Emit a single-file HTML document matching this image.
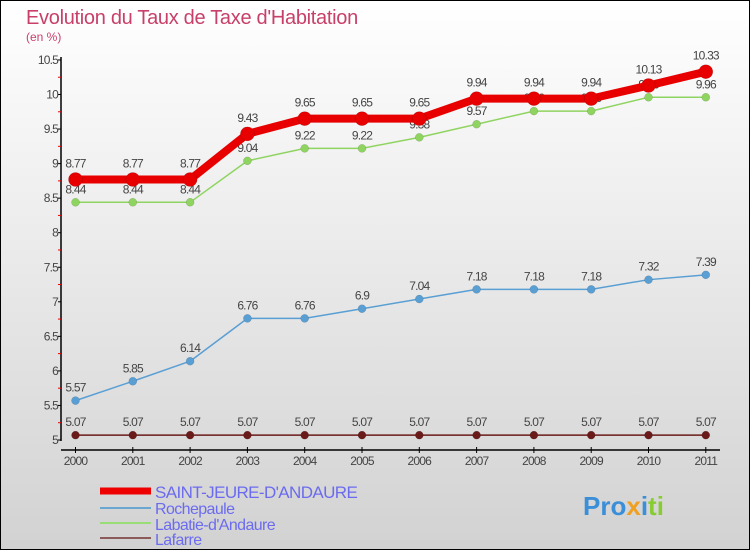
<!DOCTYPE html>
<html><head><meta charset="utf-8"><style>
body{margin:0}
#c{width:750px;height:550px;position:relative;overflow:hidden;box-sizing:border-box;border:1px solid #000;background:linear-gradient(#ffffff,#d2d2d2);font-family:"Liberation Sans",sans-serif}
</style></head><body>
<div id="c">
<svg id="s" width="750" height="550" style="position:absolute;left:-1px;top:-1px">
<text x="26" y="24" font-size="20" fill="#c8406a" letter-spacing="-0.3">Evolution du Taux de Taxe d'Habitation</text>
<text x="26" y="41" font-size="12" fill="#c8406a">(en %)</text>
<g id="axes"></g><g id="series"></g>
<g letter-spacing="-0.6">
<line x1="100" y1="491" x2="151" y2="491" stroke="#e00" stroke-width="7"/>
<text x="155" y="498" font-size="17" fill="#6b6bf0">SAINT-JEURE-D'ANDAURE</text>
<line x1="100" y1="508" x2="151" y2="508" stroke="#6aa7d0" stroke-width="2"/>
<text x="155" y="514" font-size="16" fill="#6b6bf0">Rochepaule</text>
<line x1="100" y1="523" x2="151" y2="523" stroke="#99dd77" stroke-width="2"/>
<text x="155" y="530" font-size="16" fill="#6b6bf0">Labatie-d'Andaure</text>
<line x1="100" y1="538" x2="151" y2="538" stroke="#8b5a5a" stroke-width="2"/>
<text x="155" y="545" font-size="16" fill="#6b6bf0">Lafarre</text>
</g>
<text x="583" y="515" font-size="26" font-weight="bold"><tspan fill="#3a8fd8">Pro</tspan><tspan fill="#f0a020">x</tspan><tspan fill="#3a8fd8">i</tspan><tspan fill="#88cc33">ti</tspan></text>
</svg>
</div>
<script>
const years=[2000,2001,2002,2003,2004,2005,2006,2007,2008,2009,2010,2011];
const saint=[8.77,8.77,8.77,9.43,9.65,9.65,9.65,9.94,9.94,9.94,10.13,10.33];
const roche=[5.57,5.85,6.14,6.76,6.76,6.9,7.04,7.18,7.18,7.18,7.32,7.39];
const labatie=[8.44,8.44,8.44,9.04,9.22,9.22,9.38,9.57,9.76,9.76,9.96,9.96];
const lafarre=[5.07,5.07,5.07,5.07,5.07,5.07,5.07,5.07,5.07,5.07,5.07,5.07];
const yTicks=[5,5.5,6,6.5,7,7.5,8,8.5,9,9.5,10,10.5];
const NS="http://www.w3.org/2000/svg";
const X=i=>75.5+i*57.3;
const Y=v=>440-(v-5)*69.1;
function mk(t,a,p){const e=document.createElementNS(NS,t);for(const k in a)e.setAttribute(k,a[k]);p.appendChild(e);return e;}
const ax=document.getElementById('axes'),sr=document.getElementById('series');
let l=mk('line',{x1:61,y1:57,x2:61,y2:441,stroke:'#000','stroke-width':1.5},ax);


l=mk('line',{x1:61,y1:450,x2:720,y2:450,stroke:'#000','stroke-width':1.5},ax);


yTicks.forEach((v,i)=>{
 mk('line',{x1:58,y1:Y(v),x2:61,y2:Y(v),stroke:'#000'},ax);
 if(i<yTicks.length-1)mk('line',{x1:58,y1:Y(v+0.25),x2:61,y2:Y(v+0.25),stroke:'#e00'},ax);
 const t=mk('text',{x:58,y:Y(v)+4,'font-size':12,fill:'#444','text-anchor':'end','letter-spacing':'-0.8'},ax);
 t.textContent=String(v);
 
 
});
years.forEach((y,i)=>{
 mk('line',{x1:X(i),y1:447,x2:X(i),y2:453,stroke:'#000'},ax);
 const t=mk('text',{x:X(i),y:465,'font-size':12,fill:'#444','text-anchor':'middle','letter-spacing':'-0.8'},ax);
 t.textContent=y;
 
 
});
function series(d,col,w,r,name){
 const g=mk('g',{},sr);
 
 
 const p=mk('polyline',{points:d.map((v,i)=>X(i)+','+Y(v)).join(' '),fill:'none',stroke:col,'stroke-width':w,'stroke-linejoin':'round'},g);
 
 
 d.forEach((v,i)=>{
  const c=mk('circle',{cx:X(i),cy:Y(v),r:r,fill:col,stroke:'rgba(0,0,0,0.2)','stroke-width':0.5},g);
  
  
  const t=mk('text',{x:X(i),y:Y(v)-(r+5),'font-size':12,fill:'#444','text-anchor':'middle','letter-spacing':'-0.8'},g);
  t.textContent=String(v);
  
  
 });
}
series(lafarre,'#6b1a1a',1.5,4,'lafarre');
series(roche,'#5a9fd4',1.5,4,'rochepaule');
series(labatie,'#8fd460',1.5,4,'labatie');
series(saint,'#e80000',8,7,'saint-jeure');
</script>
</body></html>
